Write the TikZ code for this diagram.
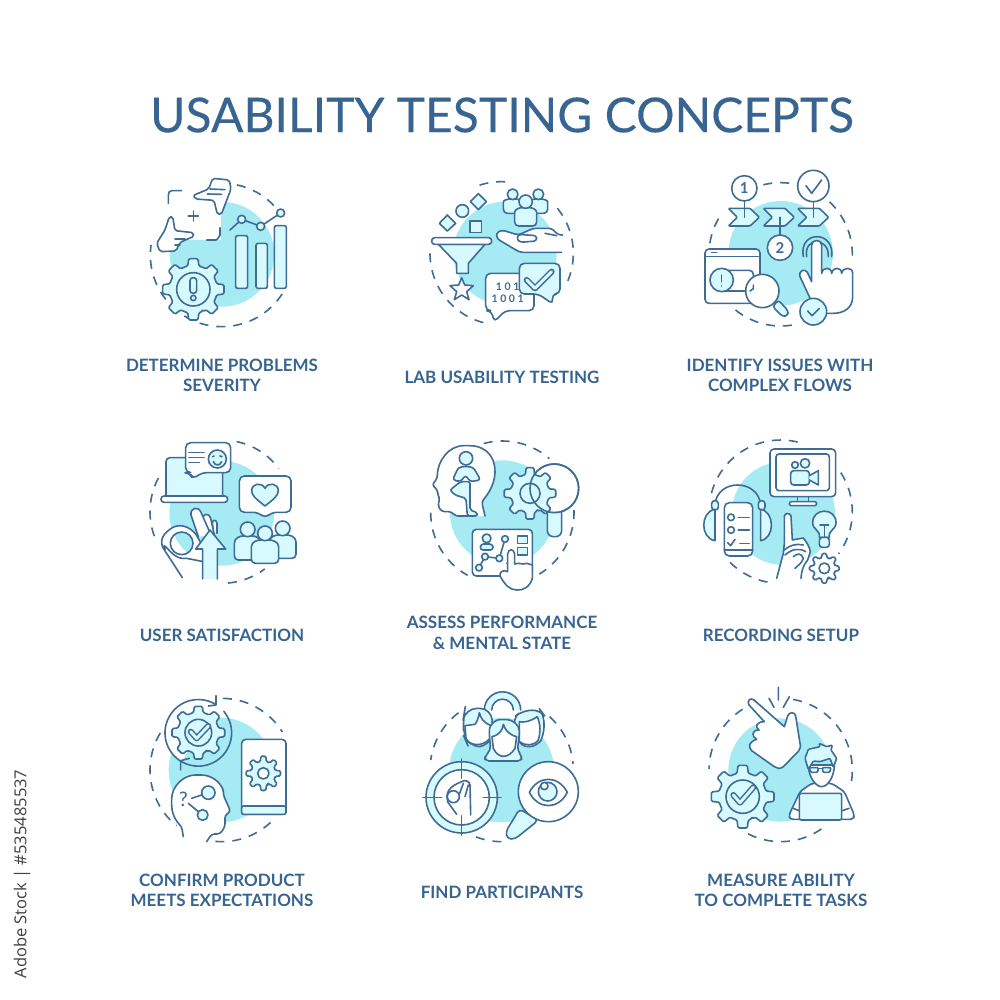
\documentclass[tikz,border=0pt]{standalone}
\usepackage{fontspec}
\setmainfont{Lato}
\newfontfamily\ttlfont[FakeBold=0.25]{Lato}
\newfontfamily\stockfont{Open Sans}
\definecolor{ln}{HTML}{3E6C95}
\definecolor{blob}{HTML}{A6EBF3}
\definecolor{lt}{HTML}{D6FAFF}
\definecolor{ttl}{HTML}{376491}
\tikzset{
 ic/.style={draw=ln,line width=1.6pt,line cap=round,line join=round},
 wh/.style={ic,fill=white},
 lf/.style={ic,fill=lt},
 dashring/.style={draw=ln,line width=1.6pt,dash pattern=on 9pt off 8pt,line cap=butt},
 zoomed/.style 2 args={shift={(#1,#2)},x=0.33333pt,y=-0.33333pt},
 lab/.style={text=ttl,font=\fontsize{17}{20}\selectfont\bfseries,inner sep=0pt,anchor=center},
 chk/.style={draw=ln,line width=1.5pt,double=lt,double distance=3pt,line cap=round,line join=round}
}
\newcommand{\dashes}[4]{\foreach \a/\b in {#4}{\draw[dashring] ({#1+#3*cos(\a)},{#2-#3*sin(\a)}) arc[start angle=-\a,end angle=-\b,radius=#3];}}
\newcommand{\blobc}[3]{\fill[blob] (#1,#2) circle[radius=#3];}
\newcommand{\gearshape}[6][lf]{%
 \pgfmathsetmacro\gstep{360/#6}%
 \draw[#1,rounded corners=1.3pt] ({#2+#5*cos(90-0.5*\gstep)},{#3+#5*sin(90-0.5*\gstep)})
 \foreach \k in {1,...,#6}{
  -- ({#2+#5*cos(90+(\k-1)*\gstep-0.30*\gstep)},{#3+#5*sin(90+(\k-1)*\gstep-0.30*\gstep)})
  -- ({#2+#4*cos(90+(\k-1)*\gstep-0.19*\gstep)},{#3+#4*sin(90+(\k-1)*\gstep-0.19*\gstep)})
  -- ({#2+#4*cos(90+(\k-1)*\gstep+0.19*\gstep)},{#3+#4*sin(90+(\k-1)*\gstep+0.19*\gstep)})
  -- ({#2+#5*cos(90+(\k-1)*\gstep+0.30*\gstep)},{#3+#5*sin(90+(\k-1)*\gstep+0.30*\gstep)})
  -- ({#2+#5*cos(90+\k*\gstep-0.5*\gstep)},{#3+#5*sin(90+\k*\gstep-0.5*\gstep)})
 } -- cycle;}
\newcommand{\person}[6][lf]{% cx, head y, head r, half width, bottom
 \draw[#1,rounded corners=4pt] ({#2-#5},#6) -- ({#2-#5},{#3+#4+(#6-#3-#4)*0.45})
  .. controls ({#2-#5},{#3+#4*1.1}) and ({#2-#5*0.5},{#3+#4*0.9}) .. (#2,{#3+#4*0.9})
  .. controls ({#2+#5*0.5},{#3+#4*0.9}) and ({#2+#5},{#3+#4*1.1}) .. ({#2+#5},{#3+#4+(#6-#3-#4)*0.45})
  -- ({#2+#5},#6) -- cycle;
 \draw[#1] (#2,#3) circle[radius=#4];}
\begin{document}
\begin{tikzpicture}[x=1pt,y=-1pt]
\useasboundingbox[fill=white] (0,0) rectangle (1000,1000);
\node[text=ttl,font=\ttlfont\fontsize{48}{50}\selectfont,inner sep=0pt] (title) at (502,115) {USABILITY TESTING CONCEPTS};
\node[lab] (l1a) at (222,365) {DETERMINE PROBLEMS};
\node[lab] (l1b) at (222,385) {SEVERITY};
\node[lab] (l2) at (502,377) {LAB USABILITY TESTING};
\node[lab] (l3a) at (780,365) {IDENTIFY ISSUES WITH};
\node[lab] (l3b) at (780,385) {COMPLEX FLOWS};
\node[lab] (l4) at (222,635) {USER SATISFACTION};
\node[lab] (l5a) at (502,622) {ASSESS PERFORMANCE};
\node[lab] (l5b) at (502,643) {\&\ MENTAL STATE};
\node[lab] (l6) at (781,635) {RECORDING SETUP};
\node[lab] (l7a) at (222,880) {CONFIRM PRODUCT};
\node[lab] (l7b) at (222,900) {MEETS EXPECTATIONS};
\node[lab] (l8) at (502,892) {FIND PARTICIPANTS};
\node[lab] (l9a) at (781,880) {MEASURE ABILITY};
\node[lab] (l9b) at (781,900) {TO COMPLETE TASKS};
\node[rotate=90,font=\stockfont\fontsize{16.5}{18}\selectfont,text=black!75,inner sep=0pt] (stock) at (22,874) {Adobe Stock | \#535485537};
%
% ---------- icon 1
\begin{scope}[zoomed={130}{165}]
\blobc{276}{268}{157}
\dashes{276}{270}{215}{78/43,-33/-188}
\fill[white] (112,75) rectangle (272,226);
\draw[ic] (155,77) -- (125,77) to[out=180,in=90] (115,90) -- (115,115);
\draw[ic] (270,188) -- (270,212) to[out=90,in=0] (258,225) -- (230,225);
\draw[ic] (190,138) -- (190,168) (175,153) -- (205,153);
\draw[wh,rounded corners=2pt] (248,40) -- (298,45) -- (303,72) -- (274,148) -- (262,148) -- (252,106) -- (196,102) -- (190,91) -- (236,72) -- cycle;
\draw[ic] (240,72) -- (285,74) (232,87) -- (275,88);
\draw[wh,rounded corners=2pt] (118,155) -- (128,155) -- (135,197) -- (190,203) -- (192,214) -- (150,232) -- (138,258) -- (90,260) -- (80,235) -- (105,195) -- cycle;
\draw[ic] (135,222) -- (165,222) (135,240) -- (150,240);
\draw[lf,rounded corners=2pt] (317,212) rectangle (353,370);
\draw[lf,rounded corners=2pt] (378,235) rectangle (412,370);
\draw[lf,rounded corners=2pt] (433,182) rectangle (469,370);
\draw[ic] (300,195) -- (335,163) -- (392,184) -- (452,144);
\foreach \p in {(335,163),(392,184),(452,144)}{\draw[lf] \p circle[radius=12];}
\gearshape{190}{373}{93}{72}{8}
\draw[lf] (190,373) circle[radius=50];
\draw[ic,rounded corners=3pt] (180,338) rectangle (200,385);
\draw[ic] (190,399) circle[radius=8];
\end{scope}
%
% ---------- icons 2 and 3
\begin{scope}[zoomed={420}{165}]
\blobc{255}{265}{155}
\dashes{245}{265}{215}{108/87,39/-25,180/258}
\draw[lf] (58,175) -- (82,150) -- (107,175) -- (82,198) -- cycle;
\draw[lf] (127,138) circle[radius=19];
\draw[lf] (151,110) -- (175,86) -- (199,110) -- (175,134) -- cycle;
\draw[lf] (150,168) rectangle (185,203);
\draw[lf] (55,238) -- (110,295) -- (110,325) -- (145,325) -- (145,295) -- (195,238) -- cycle;
\draw[wh,rounded corners=3pt] (35,218) rectangle (215,238);
\draw[wh] (125,338) -- (134,360) -- (160,362) -- (140,380) -- (147,404) -- (125,390) -- (103,404) -- (110,380) -- (90,362) -- (116,360) -- cycle;
\person[lf]{278}{88}{16}{28}{145}
\person[lf]{355}{88}{16}{28}{145}
\person[lf]{317}{110}{20}{33}{183}
\draw[wh,rounded corners=3pt] (425,262) -- (300,262) -- (232,222) -- (228,205) -- (245,195) -- (295,210) -- (340,190) -- (395,190) -- (415,210) -- (428,210);
\draw[wh,rounded corners=3pt] (300,232) -- (350,228) -- (350,212) -- (295,208) -- (290,222) -- cycle;
\draw[ic] (375,205) -- (410,212);
\draw[wh,rounded corners=5pt] (215,437) -- (197,437) -- (197,325) -- (342,325) -- (342,437) -- (255,437) -- (222,472) -- cycle;
\node[text=ln,font=\fontsize{10.5}{11}\selectfont\bfseries,inner sep=0pt] (bin1) at (263,366) {1 0 1};
\node[text=ln,font=\fontsize{10.5}{11}\selectfont\bfseries,inner sep=0pt] (bin2) at (263,400) {1 0 0 1};
\draw[lf,rounded corners=5pt] (355,387) -- (298,387) -- (298,295) -- (420,295) -- (420,387) -- (395,387) -- (400,418) -- cycle;
\draw[chk] (320,345) -- (345,370) -- (395,320);
% icon 3
\blobc{1082}{265}{157}
\dashes{1082}{268}{215}{104/81,47/-5,231/285,171/146}
\draw[lf,rounded corners=1pt] (925,130) -- (990,130) -- (1018,157) -- (990,183) -- (925,183) -- (952,157) -- cycle;
\draw[lf,rounded corners=1pt] (1030,130) -- (1095,130) -- (1123,157) -- (1095,183) -- (1030,183) -- (1057,157) -- cycle;
\draw[lf,rounded corners=1pt] (1133,130) -- (1198,130) -- (1226,157) -- (1198,183) -- (1133,183) -- (1160,157) -- cycle;
\draw[wh] (973,70) circle[radius=38];
\node[text=ln,font=\fontsize{15}{16}\selectfont\bfseries,inner sep=0pt] (n1) at (973,70) {1};
\draw[ic] (973,108) -- (973,157) (1080,157) -- (1080,210) (1180,110) -- (1180,157);
\draw[wh] (1080,248) circle[radius=38];
\node[text=ln,font=\fontsize{15}{16}\selectfont\bfseries,inner sep=0pt] (n2) at (1080,248) {2};
\draw[wh] (1180,63) circle[radius=47];
\draw[ic] (1158,62) -- (1175,85) -- (1205,45);
\draw[ic] (1160,275) .. controls (1150,215) and (1228,215) .. (1225,275);
\draw[ic] (1150,275) .. controls (1135,195) and (1245,195) .. (1235,275);
\draw[wh,rounded corners=4pt] (855,415) -- (855,252) -- (1020,252) -- (1020,415) -- cycle;
\draw[ic] (855,275) -- (1020,275) (875,263) -- (890,263);
\draw[ic,rounded corners=4pt] (905,316) -- (1000,316) -- (1000,378) -- (905,378);
\draw[lf] (905,345) circle[radius=35];
\draw[ic] (905,330) -- (905,350) (905,362) -- (905,363);
\draw[lf,rounded corners=3pt] (1058,425) -- (1075,405) -- (1105,438) -- (1103,452) -- (1088,455) -- cycle;
\draw[wh] (1027,378) circle[radius=50];
\draw[ic] (1000,360) -- (1000,372) to[out=90,in=0] (990,378);
\draw[wh] (1175,240) .. controls (1175,222) and (1205,222) .. (1205,240) -- (1205,325) .. controls (1208,305) and (1235,305) .. (1235,325) .. controls (1238,305) and (1265,305) .. (1265,325) .. controls (1268,305) and (1298,305) .. (1298,325) -- (1298,395) .. controls (1298,430) and (1270,445) .. (1240,445) -- (1190,445) -- (1175,410) -- (1140,335) .. controls (1135,315) and (1155,310) .. (1162,322) -- (1175,350) -- cycle;
\draw[lf] (1180,440) circle[radius=40];
\draw[ic] (1163,438) -- (1176,452) -- (1198,430);
\end{scope}
%
% ---------- icons 4 and 5
\begin{scope}[zoomed={140}{430}]
\blobc{245}{250}{157}
\dashes{245}{245}{215}{78/37,152/200,-85/-53}
\draw[lf,rounded corners=4pt] (78,200) -- (78,83) -- (248,83) -- (248,200);
\draw[wh,rounded corners=3pt] (63,198) rectangle (263,217);
\draw[wh,rounded corners=5pt] (150,128) -- (137,128) -- (137,38) -- (272,38) -- (272,128) -- (185,128) -- (158,148) -- cycle;
\draw[ic] (147,68) -- (192,68) (147,83) -- (192,83) (147,98) -- (178,98);
\draw[lf] (232,87) circle[radius=27];
\draw[ic] (218,80) -- (222,78) (240,78) -- (246,80);
\draw[ic] (220,95) .. controls (225,108) and (240,108) .. (245,95);
\draw[wh,rounded corners=5pt] (355,247) -- (298,247) -- (298,138) -- (453,138) -- (453,247) -- (395,247) -- (375,265) -- cycle;
\draw[lf] (375,228) .. controls (345,205) and (335,195) .. (335,182) .. controls (335,160) and (365,155) .. (375,175) .. controls (385,155) and (415,160) .. (415,182) .. controls (415,195) and (405,205) .. (375,228) -- cycle;
\person[lf]{323}{298}{22}{40}{390}
\person[lf]{428}{295}{22}{40}{385}
\person[lf]{375}{310}{22}{41}{400}
\end{scope}
\begin{scope}[zoomed={155}{505}]
\draw[wh] (175,80) -- (172,52) .. controls (175,42) and (185,45) .. (186,55) -- (186,85);
\draw[wh] (142,50) .. controls (140,25) and (160,20) .. (167,40) -- (178,90);
\draw[wh] (130,95) -- (108,30) .. controls (105,8) and (130,2) .. (138,22) -- (168,90);
\draw[wh,even odd rule] (82,218) -- (25,130) .. controls (12,105) and (25,85) .. (52,68) .. controls (80,52) and (115,70) .. (130,100) -- (145,130) -- (145,170) -- (95,160) .. controls (60,165) and (45,135) .. (28,122) -- (30,135) (80,115) circle[radius=34];
\draw[lf] (143,222) -- (143,132) -- (122,132) -- (165,75) -- (212,132) -- (187,132) -- (187,222);
\end{scope}
\begin{scope}[zoomed={140}{430}]
% icon 5
\blobc{1087}{248}{157}
\dashes{1087}{248}{215}{105/49,180/241,2/-59}
\draw[wh,rounded corners=3pt] (1035,258) -- (1025,215) .. controls (1090,140) and (1070,47) .. (980,47) .. controls (925,47) and (892,95) .. (892,145) -- (876,165) -- (893,180) -- (893,195) -- (900,207) -- (893,225) -- (905,245) -- (935,245) -- (945,258) -- (985,258);
\draw[lf,rounded corners=2pt] (962,155) -- (990,155) -- (990,195) -- (990,240) -- (1012,248) -- (1012,258) -- (982,258) -- (978,205) -- (945,195) -- (930,180) -- cycle;
\draw[lf,rounded corners=3pt] (978,109) -- (1000,112) -- (1022,150) -- (990,155) -- (977,135) -- (962,155) -- (938,150) -- (955,112) -- cycle;
\draw[lf] (978,85) circle[radius=20];
\draw[wh] (1243,175) circle[radius=73];
\gearshape{1170}{190}{78}{58}{8}
\draw[ic] (1170,190) circle[radius=30];
\draw[lf,rounded corners=6pt] (1222,245) -- (1222,320) -- (1265,320) -- (1265,245);
\draw[ic] (1243,175) circle[radius=73];
\draw[wh,rounded corners=4pt] (997,298) rectangle (1177,438);
\draw[lf] (1040,325) circle[radius=13];
\draw[lf,rounded corners=3pt] (1020,360) -- (1022,342) -- (1058,342) -- (1060,360) -- cycle;
\draw[ic] (1017,413) -- (1035,380) -- (1078,385) -- (1095,327);
\foreach \p in {(1017,413),(1035,380),(1078,385),(1095,327)}{\draw[lf] \p circle[radius=10];}
\draw[lf] (1133,318) rectangle (1163,340);
\draw[lf] (1133,353) rectangle (1163,375);
\draw[wh] (1103,425) -- (1103,372) .. controls (1105,355) and (1122,355) .. (1124,372) -- (1124,402) -- (1135,400) -- (1150,402) -- (1160,400) -- (1177,405) -- (1177,445) .. controls (1170,470) and (1150,482) .. (1130,480) .. controls (1110,480) and (1095,465) .. (1080,438) .. controls (1078,425) and (1090,418) .. (1103,425) -- cycle;
\draw[ic] (1100,400)-- (1100,400);
\end{scope}
%
% ---------- icon 6
\begin{scope}[zoomed={690}{430}]
\blobc{280}{250}{155}
\dashes{272}{245}{215}{165/73,33/-36,225/263}
\draw[wh,rounded corners=4pt] (240,57) rectangle (437,200);
\draw[wh,rounded corners=3pt] (258,72) rectangle (418,182);
\draw[ic] (322,200) -- (322,215) (356,200) -- (356,215);
\draw[wh,rounded corners=2pt] (298,215) rectangle (380,227);
\draw[lf,rounded corners=3pt] (302,122) rectangle (358,165);
\draw[lf] (358,137) -- (385,122) -- (385,165) -- (358,150);
\draw[lf] (315,105) circle[radius=10];
\draw[lf] (345,100) circle[radius=14];
\draw[ic] (75,225) .. controls (80,145) and (205,145) .. (212,225);
\draw[lf,rounded corners=3pt] (65,212) rectangle (85,240);
\draw[lf,rounded corners=3pt] (205,212) rectangle (225,240);
\draw[lf] (75,238) .. controls (30,245) and (30,325) .. (75,332) -- cycle;
\draw[lf] (212,238) .. controls (255,245) and (255,325) .. (212,332) -- cycle;
\draw[wh,rounded corners=5pt] (103,218) rectangle (188,378);
\draw[ic] (103,360) -- (188,360);
\draw[ic] (123,262) circle[radius=10] (123,300) circle[radius=10];
\draw[ic] (145,262) -- (178,262) (145,300) -- (178,300) (150,340) -- (178,340);
\draw[ic] (113,338) -- (122,347) -- (135,328);
\draw[lf] (388,322) .. controls (392,300) and (368,300) .. (368,278) .. controls (368,232) and (438,232) .. (438,278) .. controls (438,300) and (414,300) .. (418,322) -- cycle;
\draw[ic] (390,285) -- (416,285) (403,285) -- (403,322);
\draw[lf,rounded corners=3pt] (388,322) rectangle (418,352);
\gearshape[wh]{403}{415}{45}{33}{8}
\draw[ic] (403,415) circle[radius=16];
\end{scope}
\begin{scope}[zoomed={775}{510}]
\draw[wh] (5,205) -- (25,130) -- (28,100) -- (28,18) .. controls (30,8) and (46,8) .. (48,18) -- (52,90) -- (85,84) .. controls (95,95) and (105,115) .. (106,125) -- (98,150) .. controls (85,165) and (80,180) .. (78,205);
\draw[ic] (25,122) .. controls (45,105) and (65,100) .. (85,105) (30,135) .. controls (50,118) and (70,112) .. (92,125);
\draw[ic] (55,140) .. controls (65,130) and (80,128) .. (85,145) .. controls (80,160) and (70,165) .. (60,175);
\end{scope}
%
% ---------- icon 7
\begin{scope}[zoomed={140}{680}]
\blobc{243}{270}{157}
\dashes{245}{270}{215}{89/32,149/231,265/316}
\draw[wh] (225,72) arc[start angle=-60,end angle=-240,radius=100];
\draw[ic] (228,47) -- (228,75) -- (205,78);
\draw[ic] (125,245) arc[start angle=120,end angle=-40,radius=100];
\draw[ic] (122,270) -- (122,242) -- (148,235);
\gearshape{175}{158}{80}{62}{8}
\draw[lf] (175,158) circle[radius=40];
\draw[chk] (152,155) -- (170,175) -- (205,138);
\draw[wh,rounded corners=4pt] (305,178) rectangle (438,403);
\draw[lf,rounded corners=2pt] (305,378) rectangle (438,403);
\gearshape{370}{280}{52}{37}{8}
\draw[wh] (370,280) circle[radius=17];
\draw[wh,rounded corners=3pt] (130,470) -- (125,440) .. controls (100,415) and (95,390) .. (95,365) .. controls (95,320) and (130,285) .. (175,285) .. controls (225,285) and (250,320) .. (250,345) -- (272,395) -- (255,405) -- (255,440) -- (240,462) -- (215,462) -- (200,485);
\node[text=ln,font=\fontsize{20}{21}\selectfont,inner sep=0pt] (q) at (130,358) {?};
\draw[ic] (155,355) -- (185,345) (145,370) -- (175,395);
\draw[lf] (205,338) circle[radius=20];
\draw[lf] (188,405) circle[radius=16];
\end{scope}
%
% ---------- icon 8
\begin{scope}[zoomed={420}{685}]
\blobc{245}{255}{157}
\dashes{245}{255}{215}{127/172,48/5,249/273}
\draw[lf] (193,75) arc[start angle=180,end angle=360,radius=54.5];
\draw[wh] (215,75) arc[start angle=180,end angle=360,radius=32.5];
\draw[lf,rounded corners=12pt] (130,100) -- (135,70) -- (215,70) -- (218,140) -- (210,185) -- (145,185) -- (130,150) -- cycle;
\draw[wh] (135,122) -- (165,118) .. controls (172,110) and (176,95) .. (178,83) .. controls (182,100) and (190,112) .. (213,122) -- (210,160) .. controls (190,185) and (150,185) .. (138,160) -- cycle;
\draw[lf,rounded corners=8pt] (278,100) -- (305,78) -- (360,74) -- (372,90) -- (372,150) -- (352,185) -- (300,185) -- cycle;
\draw[wh] (298,110) .. controls (320,115) and (345,100) .. (352,95) .. controls (362,120) and (362,140) .. (355,165) .. controls (340,185) and (315,182) .. (298,170) -- cycle;
\draw[lf,rounded corners=4pt] (195,228) -- (195,212) -- (212,196) -- (208,150) .. controls (208,115) and (230,104) .. (250,104) .. controls (275,104) and (298,118) .. (298,150) -- (292,196) -- (305,212) -- (305,228) -- cycle;
\draw[wh] (216,155) .. controls (238,150) and (248,135) .. (250,118) .. controls (255,135) and (268,150) .. (290,155) -- (285,190) .. controls (265,222) and (235,222) .. (220,190) -- cycle;
\draw[lf] (125,337) circle[radius=107];
\draw[wh] (125,337) circle[radius=83];
\draw[ic] (125,222) -- (125,280) (125,392) -- (125,450) (8,337) -- (65,337) (190,337) -- (243,337);
\draw[ic] (110,388) -- (84,352) .. controls (75,325) and (85,305) .. (125,290) .. controls (135,282) and (150,290) .. (150,300) -- (152,390);
\draw[ic] (100,335) circle[radius=18];
\draw[ic] (118,328) -- (130,295) (135,335) -- (145,300);
\draw[lf,rounded corners=4pt] (298,372) -- (355,405) -- (335,422) -- (285,462) -- (262,462) -- (257,440) -- (285,395) -- cycle;
\draw[wh] (385,320) circle[radius=90];
\draw[wh] (328,322) .. controls (355,270) and (415,270) .. (442,322) .. controls (415,375) and (355,375) .. (328,322) -- cycle;
\draw[lf] (383,320) circle[radius=28];
\draw[wh] (373,303) circle[radius=11];
\end{scope}
%
% ---------- icon 9
\begin{scope}[zoomed={690}{680}]
\blobc{270}{270}{155}
\dashes{272}{270}{215}{122/179,80/-14,243/310}
\draw[ic] (265,22) -- (265,60) (237,55) -- (252,82) (298,50) -- (280,82);
\gearshape{158}{350}{95}{72}{8}
\draw[lf] (158,350) circle[radius=50];
\draw[chk] (130,345) -- (150,368) -- (190,322);
\end{scope}
\begin{scope}[zoomed={745}{680}]
\draw[wh] (12,75) .. controls (5,65) and (15,50) .. (27,60) -- (118,140) -- (128,108) .. controls (132,95) and (150,95) .. (152,108) -- (165,190) .. controls (168,200) and (165,208) .. (160,214) -- (115,260) .. controls (105,268) and (95,265) .. (88,260) -- (20,212) .. controls (8,200) and (12,185) .. (35,178) .. controls (20,170) and (18,150) .. (42,150) .. controls (28,140) and (35,125) .. (58,125) -- cycle;
\draw[wh,rounded corners=3pt] (135,418) -- (132,405) -- (165,335) -- (200,310) -- (260,310) -- (298,335) -- (328,405) -- (325,418) -- cycle;
\draw[ic] (145,385) -- (162,392) (292,392) -- (312,385);
\draw[lf,rounded corners=2pt] (163,340) rectangle (290,420);
\draw[wh] (190,255) .. controls (190,290) and (212,320) .. (230,320) .. controls (248,320) and (268,290) .. (268,255) -- cycle;
\draw[lf,rounded corners=1pt] (190,268) -- (180,235) -- (190,208) -- (225,200) -- (222,190) -- (245,200) -- (262,195) -- (258,210) -- (275,235) -- (265,262) -- (255,235) -- (225,245) -- (205,243) -- cycle;
\draw[ic,fill=lt,rounded corners=1pt] (193,263) -- (220,263) -- (218,277) -- (197,277) -- cycle;
\draw[ic,fill=lt,rounded corners=1pt] (232,263) -- (258,263) -- (254,277) -- (234,277) -- cycle;
\draw[ic] (220,266) -- (232,266);
\end{scope}
\end{tikzpicture}
\end{document}
